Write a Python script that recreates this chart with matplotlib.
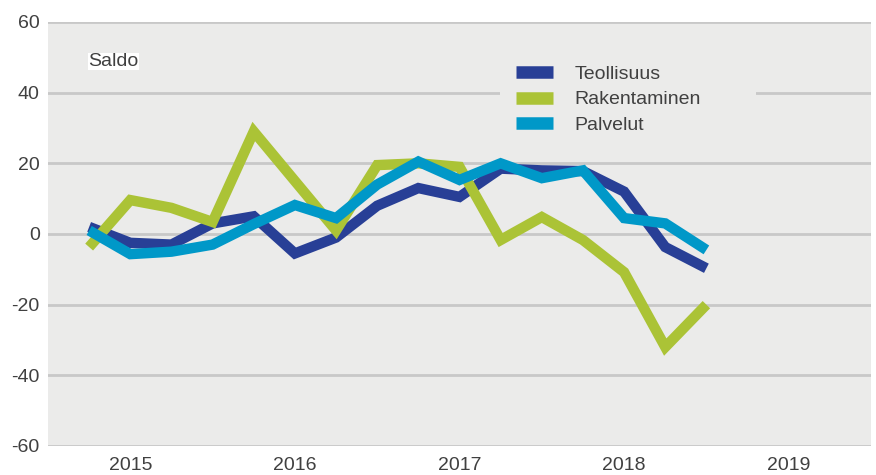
import matplotlib.pyplot as plt
from matplotlib.lines import Line2D
from matplotlib.patches import Rectangle

plt.rcParams['font.family'] = ['Liberation Sans', 'DejaVu Sans']
plt.rcParams['axes.unicode_minus'] = False

# quarterly observations, year labels sit on the 2nd quarter of each year
quarters = list(range(16))
year_pos = [1, 5, 9, 13, 17]
year_labels = ['2015', '2016', '2017', '2018', '2019']

teollisuus = [2, -2.5, -3, 3, 5, -5.5, -1, 8, 13, 10.5, 18.5, 18, 17.8, 12, -3.7, -9.7]
rakentaminen = [-3.7, 9.6, 7.4, 3.4, 29, 15, 1, 19.5, 20, 19, -1.7, 4.8, -1.7, -10.8, -32, -20]
palvelut = [1, -5.7, -5, -3, 2.8, 8.2, 4.5, 14, 20.5, 15.3, 20, 15.8, 18, 4.5, 3, -4.5]

names = ['Teollisuus', 'Rakentaminen', 'Palvelut']
colors = ['#283F96', '#ABC336', '#0098C8']
bg = '#EBEBEA'

fig = plt.figure(figsize=(8.76, 4.75), dpi=100)
ax = fig.add_axes([48 / 876, 29 / 475, 823 / 876, 424 / 475])
ax.set_facecolor(bg)

for vals, c in zip([teollisuus, rakentaminen, palvelut], colors):
    ax.plot(quarters, vals, color=c, lw=7.5, solid_capstyle='butt',
            solid_joinstyle='miter', zorder=3)

ax.set_xlim(-1, 19)
ax.set_ylim(-60, 60)
ax.set_yticks(range(-60, 61, 20))
ax.set_xticks(year_pos)
ax.set_xticklabels(year_labels)
ax.grid(axis='y', color='#C8C8C8', lw=2)
ax.set_axisbelow(True)
for s in ax.spines.values():
    s.set_visible(False)
ax.tick_params(length=0, labelsize=14, colors='#404040', pad=6)
ax.tick_params(axis='x', pad=8)

ax.text(0.049, 0.906, 'Saldo', transform=ax.transAxes, fontsize=14,
        color='#404040', va='center', ha='left',
        bbox=dict(facecolor='white', edgecolor='none', pad=0))

# legend area hides the gridline behind it
ax.add_patch(Rectangle((0.549, 0.722), 0.311, 0.2, transform=ax.transAxes,
                       facecolor=bg, edgecolor='none', zorder=1))

handles = [Line2D([], [], color=c, lw=9, solid_capstyle='butt') for c in colors]
leg = ax.legend(handles, names, loc='upper left', bbox_to_anchor=(0.555, 0.925),
                fontsize=14, frameon=False, handlelength=1.9, handletextpad=1.1,
                labelspacing=0.4, borderpad=0.6, borderaxespad=0)
for t in leg.get_texts():
    t.set_color('#404040')

plt.savefig('out.png')
